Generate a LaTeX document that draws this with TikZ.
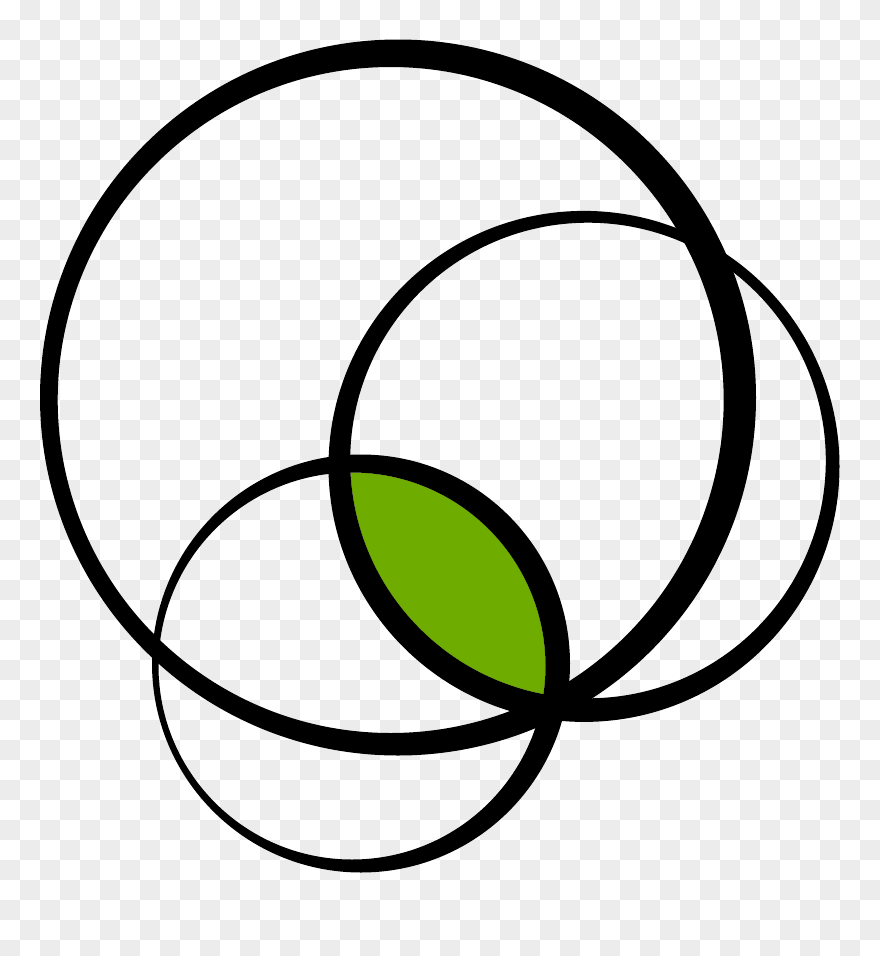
\documentclass[tikz,border=0pt]{standalone}
\definecolor{checkgray}{RGB}{236,236,236}
\definecolor{leafgreen}{RGB}{110,173,0}
\tikzset{
  band/.style={fill=black, even odd rule},
  checker/.style={fill=checkgray}
}
\begin{document}
\begin{tikzpicture}[x=1pt,y=-1pt]
\useasboundingbox (0,0) rectangle (880,956);
\begin{scope}
\clip (0,0) rectangle (880,956);
\fill[white] (0,0) rectangle (880,956);
\foreach \j in {0,2,...,46} \foreach \i in {1,3,...,43}
  \fill[checker] (\i*20,\j*20) rectangle ++(20,20);
\foreach \j in {1,3,...,47} \foreach \i in {0,2,...,42}
  \fill[checker] (\i*20,\j*20) rectangle ++(20,20);
\end{scope}
% green lens
\begin{scope}
\clip (588,460.5) circle (237.8pt);
\fill[leafgreen] (352,666) circle (193.5pt);
\end{scope}
% big circle
\fill[band] (398,397.5) circle (358pt) (390.7,400) circle (333pt);
% right circle
\fill[band] (584,466.4) circle (255.5pt) (588,460.5) circle (237.8pt);
% bottom circle
\fill[band] (361,663.5) circle (209pt) (352,666) circle (193.5pt);
\end{tikzpicture}
\end{document}
